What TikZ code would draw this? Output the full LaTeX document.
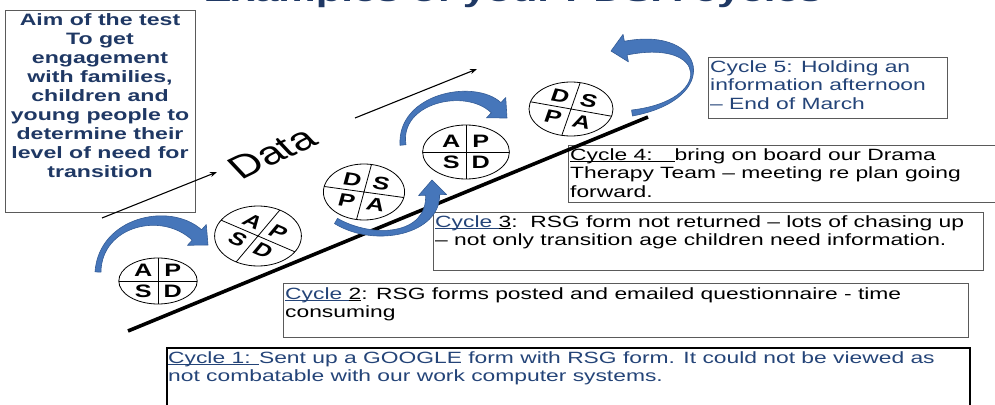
\documentclass[tikz,border=0pt]{standalone}
\usepackage{fontspec}
\setmainfont{Liberation Sans}[FakeStretch=1.40]
\newfontfamily\plainsans{Liberation Sans}
\usetikzlibrary{arrows.meta,calc}

\definecolor{navy}{RGB}{31,56,100}
\definecolor{cycblue}{RGB}{36,68,120}
\definecolor{arrblue}{RGB}{70,118,186}
\definecolor{arrdark}{RGB}{52,92,150}
\definecolor{boxgray}{RGB}{90,90,90}

\tikzset{cbox/.style={
    draw=boxgray,
    line width=0.9pt,
    anchor=north west,
    inner sep=0pt}}
\tikzset{ctext/.style={
    anchor=north west,
    inner xsep=2pt,
    inner ysep=3pt,
    align=left,
    font=\fontsize{16.3}{18.5}\selectfont}}
\tikzset{aimtext/.style={
    anchor=north,
    inner sep=0pt,
    align=center,
    text=navy,
    font=\bfseries\fontsize{16.5}{19}\selectfont}}
\tikzset{cyc/.style={
    line width=0.8pt}}
\tikzset{letter/.style={
    transform shape,
    inner sep=0pt,
    font=\plainsans\bfseries\fontsize{18}{18}\selectfont}}
\tikzset{datarrow/.style={
    -{Stealth[length=7pt,width=5pt]},
    line width=1.1pt}}
\tikzset{swoop/.style={
    fill=arrblue,
    draw=arrdark,
    line width=0.6pt,
    line join=round}}

\newcommand{\cyclul}[1]{\setbox0\hbox{#1}\rlap{\rule[-1.7pt]{\wd0}{0.9pt}}\box0}

% un cercle PDSA : centre, rayons, angle, lettres, nom
\newcommand{\pdsacycle}[9]{%
  \begin{scope}[shift={#1}, xscale=1.4]
    \draw[cyc] (0,0) ellipse (#2 and #3);
    \begin{scope}
      \clip (0,0) ellipse (#2 and #3);
      \draw[cyc, rotate=#4] (-60,0) -- (60,0) (0,-60) -- (0,60);
    \end{scope}
    \begin{scope}[rotate=#4]
      \node[letter] (#9ul) at (-10.5,10.5) {#5};
      \node[letter] (#9ur) at (10.5,10.5) {#6};
      \node[letter] (#9ll) at (-10.5,-10.5) {#7};
      \node[letter] (#9lr) at (10.5,-10.5) {#8};
    \end{scope}
  \end{scope}}

% flèche courbe effilée : départ, deux points de contrôle, pointe
\newcommand{\swooparrow}[4]{%
  \coordinate (q0) at #1;
  \coordinate (q1) at #2;
  \coordinate (q2) at #3;
  \coordinate (q3) at #4;
  \coordinate (qb) at ($(q3)!15pt!(q2)$);
  \filldraw[swoop]
    ($(q0)!3pt!90:(q1)$) .. controls ($(q1)!5pt!90:(q2)$) and ($(q2)!6.5pt!90:(qb)$) .. ($(qb)!7pt!90:(q3)$)
    -- ($(qb)!14pt!90:(q3)$) -- (q3) -- ($(qb)!14pt!-90:(q3)$)
    -- ($(qb)!7pt!-90:(q3)$) .. controls ($(q2)!6.5pt!-90:(qb)$) and ($(q1)!5pt!-90:(q2)$) .. ($(q0)!3pt!-90:(q1)$)
    -- cycle;}

\begin{document}
\begin{tikzpicture}[x=1pt,y=1pt]
\useasboundingbox (0,0) rectangle (995,-404);
\clip (0,0) rectangle (995,-404);

  % titre
  \node[anchor=base, text=navy, font=\bfseries\fontsize{30}{30}\selectfont] (title) at (513,-1.5) {Examples of your PDSA cycles};

  % cadre objectif
  \node[cbox, minimum width=190, minimum height=202] (aimbox) at (5,-10) {};
  \node[aimtext] (aim) at (100,-13) {Aim of the test\\To get\\engagement\\with families,\\children and\\young people to\\determine their\\level of need for\\transition};

  % cycles
  \node[cbox, minimum width=239, minimum height=61] (c5box) at (708,-57) {};
  \node[ctext, text=cycblue] (c5) at (c5box.north west) {Cycle 5: Holding an\\information afternoon\\– End of March};

  \node[cbox, minimum width=440, minimum height=57] (c4box) at (568,-145) {};
  \node[ctext] (c4) at (c4box.north west) {\cyclul{Cycle 4:\hspace{22pt}}bring on board our Drama\\Therapy Team – meeting re plan going\\forward.};

  \node[cbox, minimum width=550, minimum height=58] (c3box) at (433,-212) {};
  \node[ctext] (c3) at (c3box.north west) {{\color{cycblue}\cyclul{Cycle }}\cyclul{3}:\ \ RSG form not returned – lots of chasing up\\– not only transition age children need information.};

  \node[cbox, minimum width=685, minimum height=54] (c2box) at (283,-283) {};
  \node[ctext, inner ysep=4pt] (c2) at (c2box.north west) {{\color{cycblue}\cyclul{Cycle }}\cyclul{2}: RSG forms posted and emailed questionnaire - time\\consuming};

  \node[cbox, draw=black, line width=1.8pt, minimum width=803, minimum height=62] (c1box) at (166,-347) {};
  \node[ctext, inner ysep=4pt, text=cycblue] (c1) at (c1box.north west) {\cyclul{Cycle 1: }Sent up a GOOGLE form with RSG form. It could not be viewed as\\not combatable with our work computer systems.};

  % axe des données
  \coordinate (d1s) at (102,-218);
  \coordinate (d1e) at (217,-172);
  \coordinate (d2s) at (355,-118);
  \coordinate (d2e) at (477,-69);
  \draw[datarrow] (d1s) -- (d1e);
  \draw[datarrow] (d2s) -- (d2e);
  \begin{scope}[shift={(272,-153)}, xscale=1.4]
    \node[rotate=34, transform shape, inner sep=0pt, font=\plainsans\fontsize{32}{32}\selectfont] (datalbl) {Data};
  \end{scope}

  % ligne épaisse
  \coordinate (lowA) at (128,-331);
  \coordinate (lowB) at (648,-117);
  \draw[line width=3.6pt] (lowA) -- (lowB);

  % cercles PDSA
  \pdsacycle{(158,-281)}{28}{23}{0}{A}{P}{S}{D}{p1}
  \pdsacycle{(258,-236)}{31}{30}{-31}{A}{P}{S}{D}{p2}
  \pdsacycle{(364,-192)}{29}{28}{-11}{D}{S}{P}{A}{p3}
  \pdsacycle{(466,-152)}{31}{27}{0}{A}{P}{S}{D}{p4}
  \pdsacycle{(571,-109)}{30}{27}{-14}{D}{S}{P}{A}{p5}

  % flèches courbes
  \swooparrow{(98,-272)}{(100,-222)}{(165,-206)}{(208,-245)}
  \swooparrow{(336,-221)}{(375,-244)}{(434,-234)}{(432,-180)}
  \swooparrow{(403,-145)}{(398,-98)}{(470,-83)}{(507,-118)}
  \swooparrow{(632,-113)}{(718,-100)}{(708,-32)}{(611,-51)}
\end{tikzpicture}
\end{document}
